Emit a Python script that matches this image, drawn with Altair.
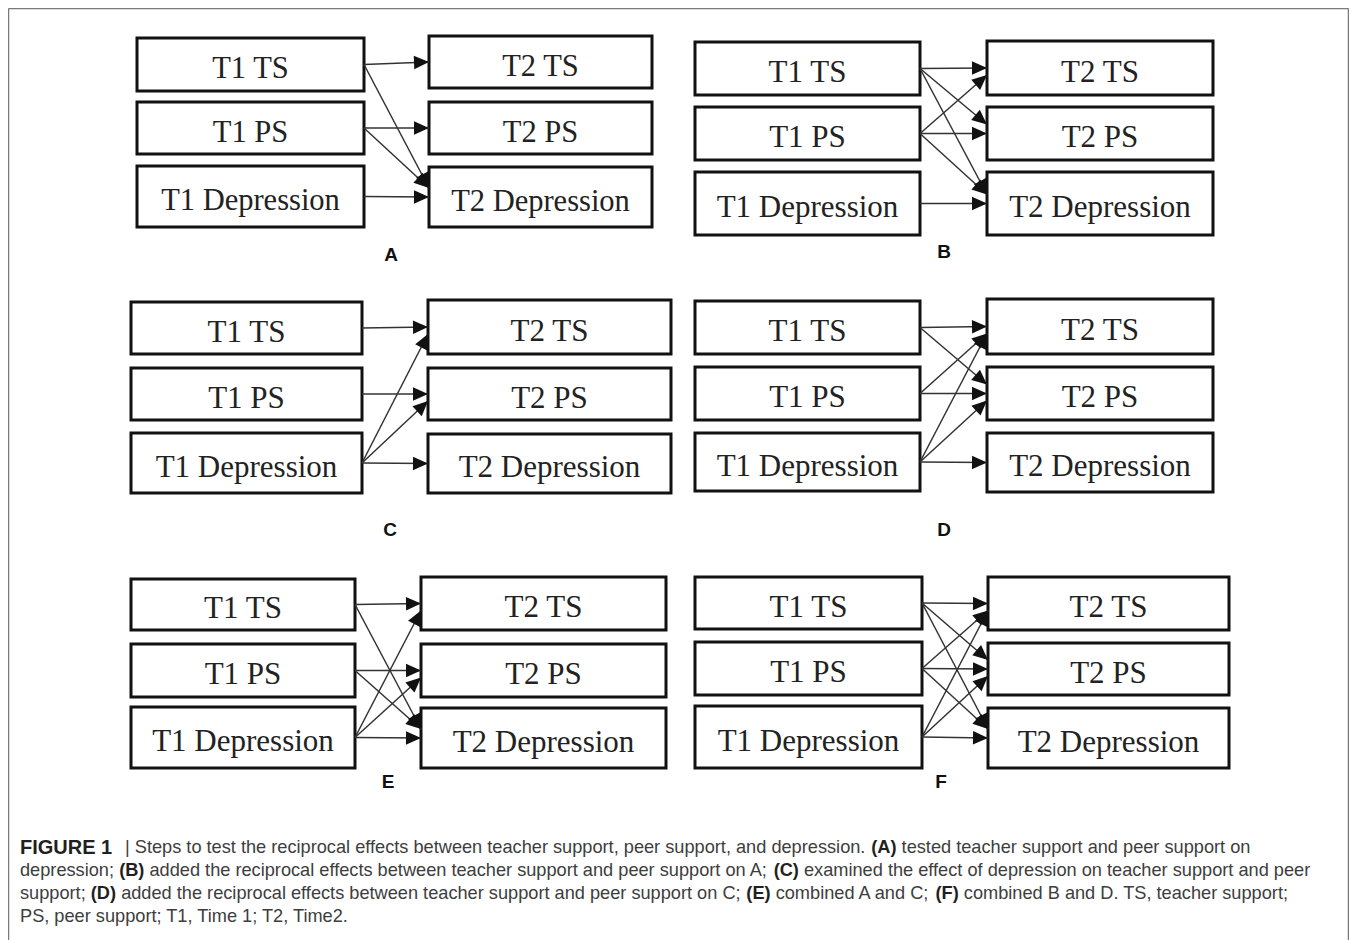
import math
import altair as alt
import pandas as pd

# ---------------- data ----------------
PANELS = ["A", "B", "C", "D", "E", "F"]
LEFT_NODES = ["T1 TS", "T1 PS", "T1 Depression"]
RIGHT_NODES = ["T2 TS", "T2 PS", "T2 Depression"]

LEFT_X0 = [137, 695, 131, 695, 131, 695]
LEFT_X1 = [364, 920, 362, 920, 355, 922]
RIGHT_X0 = [429, 987, 428, 987, 421, 988]
RIGHT_X1 = [652, 1213, 671, 1213, 666, 1229]

LEFT_TOPS = [[38, 102, 166], [42, 107, 172], [302, 368, 433],
             [301, 367, 433], [579, 644, 707], [577, 642, 706]]
LEFT_BOTTOMS = [[91, 154, 227], [95, 160, 235], [354, 420, 493],
                [354, 420, 491], [630, 697, 768], [629, 695, 768]]
RIGHT_TOPS = [[36, 102, 167], [41, 107, 172], [300, 368, 434],
              [299, 367, 433], [577, 644, 708], [577, 643, 708]]
RIGHT_BOTTOMS = [[88, 154, 227], [95, 160, 235], [354, 420, 493],
                 [354, 420, 492], [630, 697, 768], [630, 695, 768]]

BOX_FONT = [30.5, 31, 31, 31, 31, 31]
LABEL_X = [391, 944, 390, 944, 388, 941]
LABEL_Y = [255, 252, 530, 530, 782, 782]

PATHS = {
    "A": [(0, 0), (1, 1), (2, 2), (0, 2), (1, 2)],
    "B": [(0, 0), (1, 1), (2, 2), (0, 2), (1, 2), (0, 1), (1, 0)],
    "C": [(0, 0), (1, 1), (2, 2), (2, 0), (2, 1)],
    "D": [(0, 0), (1, 1), (2, 2), (2, 0), (2, 1), (0, 1), (1, 0)],
    "E": [(0, 0), (1, 1), (2, 2), (0, 2), (1, 2), (2, 0), (2, 1)],
    "F": [(0, 0), (1, 1), (2, 2), (0, 1), (0, 2), (1, 0), (1, 2), (2, 0), (2, 1)],
}
DOWN_OFFSET = -9   # where downward paths meet the target box
UP_OFFSET = 7      # where upward paths meet the target box

CAPTION_Y = [848, 871, 894, 917]
CAPTION_X0 = 20
CAP_FONT = 18.2
FIGURE_FONT = 20
CAP_LINE = [0, 0, 0, 0,
            1, 1, 1, 1, 1,
            2, 2, 2, 2, 2, 2, 2,
            3]
CAP_BOLD = [True, False, True, False,
            False, True, False, True, False,
            False, True, False, True, False, True, False,
            False]
CAP_TEXT = [
    "FIGURE 1", "| Steps to test the reciprocal effects between teacher support, peer support, and depression.",
    "(A)", "tested teacher support and peer support on",
    "depression;", "(B)", "added the reciprocal effects between teacher support and peer support on A;",
    "(C)", "examined the effect of depression on teacher support and peer",
    "support;", "(D)", "added the reciprocal effects between teacher support and peer support on C;",
    "(E)", "combined A and C;", "(F)", "combined B and D. TS, teacher support;",
    "PS, peer support; T1, Time 1; T2, Time2.",
]
# the condensed bold "FIGURE 1" of the original is wider than Arial's; its follower starts here
FIRST_FOLLOW_X = 125

FRAME_X = [8.5, 8.5, 1348.5]
FRAME_Y = [8.5, 8.5, 8.5]
FRAME_X2 = [1348.5, 8.5, 1348.5]
FRAME_Y2 = [8.5, 940, 940]

# Arial / Liberation Sans advance widths (1/1000 em), used to chain caption pieces
_REG = dict(zip(" ()|,.;:0123456789", [278, 333, 333, 260, 278, 278, 278, 278] + [556] * 10))
_REG.update(dict(zip("ABCDEFGHIJKLMNOPQRSTUVWXYZ",
                     [667, 667, 722, 722, 667, 611, 778, 722, 278, 500, 667, 556, 833,
                      722, 778, 667, 778, 722, 667, 611, 722, 667, 944, 667, 667, 611])))
_REG.update(dict(zip("abcdefghijklmnopqrstuvwxyz",
                     [556, 556, 500, 556, 556, 278, 556, 556, 222, 222, 500, 222, 833,
                      556, 556, 556, 556, 333, 500, 278, 556, 500, 722, 500, 500, 500])))
_BOLD = dict(_REG)
_BOLD.update({"(": 333, ")": 333, "|": 280, "A": 722, "B": 722, "C": 722, "D": 722,
              "E": 667, "F": 611, "G": 778, "I": 278, "R": 722, "U": 722})


def text_width(s, bold):
    tab = _BOLD if bold else _REG
    return sum(tab.get(ch, 556) for ch in s) / 1000 * CAP_FONT


# ---------------- tables ----------------
boxes, edges = [], []
for i, p in enumerate(PANELS):
    for r in range(3):
        for side in ("L", "R"):
            if side == "L":
                x0, x1, y0, y1, lab = LEFT_X0[i], LEFT_X1[i], LEFT_TOPS[i][r], LEFT_BOTTOMS[i][r], LEFT_NODES[r]
            else:
                x0, x1, y0, y1, lab = RIGHT_X0[i], RIGHT_X1[i], RIGHT_TOPS[i][r], RIGHT_BOTTOMS[i][r], RIGHT_NODES[r]
            boxes.append(dict(panel=p, x0=x0, x1=x1, y0=y0, y1=y1, label=lab,
                              cx=(x0 + x1) / 2, cy=(y0 + y1) / 2 + 4.5, fs=BOX_FONT[i]))
    for s, t in PATHS[p]:
        sx = LEFT_X1[i]
        sy = (LEFT_TOPS[i][s] + LEFT_BOTTOMS[i][s]) / 2
        tx = RIGHT_X0[i]
        ty = (RIGHT_TOPS[i][t] + RIGHT_BOTTOMS[i][t]) / 2
        if t > s:
            ty += DOWN_OFFSET
        elif t < s:
            ty += UP_OFFSET
        ang = math.degrees(math.atan2(ty - sy, tx - sx)) % 360
        edges.append(dict(panel=p, sx=sx, sy=sy, tx=tx, ty=ty, ang=ang))

cap_rows = []
cursor = {}
for k, (txt, line, bold) in enumerate(zip(CAP_TEXT, CAP_LINE, CAP_BOLD)):
    x = cursor.get(line, CAPTION_X0)
    if k == 1:
        x = FIRST_FOLLOW_X
    fs = FIGURE_FONT if k == 0 else CAP_FONT
    cap_rows.append(dict(text=txt, x=x, y=CAPTION_Y[line], bold=bold, fs=fs))
    cursor[line] = x + text_width(txt, bold) + text_width(" ", False)

boxes = pd.DataFrame(boxes)
edges = pd.DataFrame(edges)
labels = pd.DataFrame(dict(label=PANELS, x=LABEL_X, y=LABEL_Y))
caption = pd.DataFrame(cap_rows)
frame = pd.DataFrame(dict(x=FRAME_X, y=FRAME_Y, x2=FRAME_X2, y2=FRAME_Y2))

# ---------------- chart ----------------
W, H = 1341, 932
xs = alt.Scale(domain=[8, 8 + W], range=[0, W], nice=False, zero=False)
ys = alt.Scale(domain=[8, 8 + H], range=[0, H], nice=False, zero=False)

frame_layer = alt.Chart(frame).mark_rule(color="#7a7a7a", strokeWidth=1.5).encode(
    x=alt.X("x:Q", scale=xs, axis=None), y=alt.Y("y:Q", scale=ys, axis=None),
    x2="x2:Q", y2="y2:Q")

line_layer = alt.Chart(edges).mark_rule(color="#333333", strokeWidth=1.5).encode(
    x=alt.X("sx:Q", scale=xs, axis=None), y=alt.Y("sy:Q", scale=ys, axis=None),
    x2="tx:Q", y2="ty:Q")

HEAD = "M 0 0 L -1 -0.45 L -1 0.45 Z"
head_layer = alt.Chart(edges).mark_point(shape=HEAD, filled=True, size=900,
                                         color="#111111", opacity=1, strokeWidth=0).encode(
    x=alt.X("tx:Q", scale=xs, axis=None), y=alt.Y("ty:Q", scale=ys, axis=None),
    angle=alt.Angle("ang:Q", scale=None))

box_layer = alt.Chart(boxes).mark_rect(fill="white", stroke="#111111", strokeWidth=3).encode(
    x=alt.X("x0:Q", scale=xs, axis=None), x2="x1:Q",
    y=alt.Y("y0:Q", scale=ys, axis=None), y2="y1:Q")

box_text = alt.Chart(boxes).mark_text(font="Liberation Serif", color="#222222",
                                      baseline="middle", align="center").encode(
    x=alt.X("cx:Q", scale=xs, axis=None), y=alt.Y("cy:Q", scale=ys, axis=None),
    text="label:N", size=alt.Size("fs:Q", scale=None))

label_layer = alt.Chart(labels).mark_text(font="Liberation Sans", fontWeight="bold",
                                          fontSize=19, color="#111111",
                                          baseline="middle", align="center").encode(
    x=alt.X("x:Q", scale=xs, axis=None), y=alt.Y("y:Q", scale=ys, axis=None),
    text="label:N")

cap_reg = alt.Chart(caption).transform_filter("!datum.bold").mark_text(
    font="Liberation Sans", color="#3d3d3d", align="left", baseline="middle").encode(
    x=alt.X("x:Q", scale=xs, axis=None), y=alt.Y("y:Q", scale=ys, axis=None), text="text:N",
    size=alt.Size("fs:Q", scale=None))

cap_bold = alt.Chart(caption).transform_filter("datum.bold").mark_text(
    font="Liberation Sans", fontWeight="bold", color="#231f20",
    align="left", baseline="middle").encode(
    x=alt.X("x:Q", scale=xs, axis=None), y=alt.Y("y:Q", scale=ys, axis=None), text="text:N",
    size=alt.Size("fs:Q", scale=None))

chart = alt.layer(frame_layer, box_layer, line_layer, head_layer, box_text,
                  label_layer, cap_reg, cap_bold).properties(
    width=W, height=H, padding=0, autosize="none", background="white"
).configure_view(stroke=None)

chart.save("out.html", embed_options={"renderer": "svg", "actions": False})
